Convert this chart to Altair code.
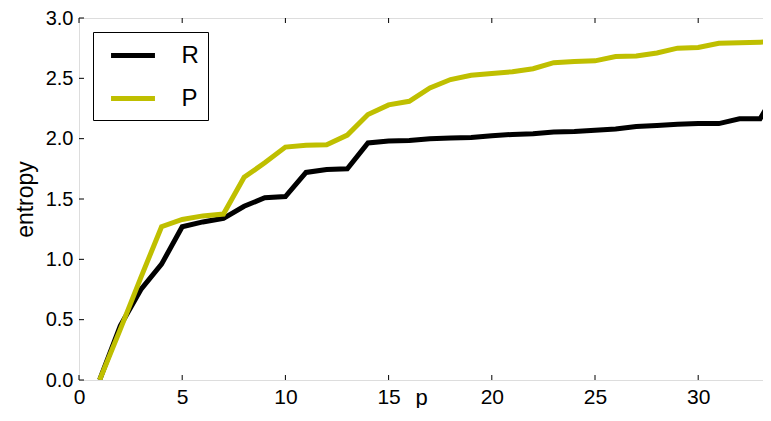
import altair as alt
import pandas as pd

p = list(range(1, 35))
R = [0.0, 0.45, 0.75, 0.96, 1.27, 1.31, 1.34, 1.44, 1.51, 1.52,
     1.72, 1.745, 1.75, 1.965, 1.98, 1.985, 2.0, 2.005, 2.01, 2.025,
     2.035, 2.04, 2.055, 2.06, 2.07, 2.08, 2.10, 2.11, 2.12, 2.125,
     2.125, 2.165, 2.165, 2.45]
P = [0.0, 0.42, 0.85, 1.27, 1.33, 1.36, 1.375, 1.68, 1.80, 1.93,
     1.945, 1.95, 2.03, 2.20, 2.28, 2.31, 2.42, 2.49, 2.525, 2.54,
     2.555, 2.58, 2.63, 2.64, 2.645, 2.68, 2.685, 2.71, 2.75, 2.755,
     2.79, 2.795, 2.80, 2.805]
series_names = ["R", "P"]
series_colors = ["#000000", "#bfbf00"]
x_ticks = [0, 5, 10, 15, 20, 25, 30]
y_ticks = [0.0, 0.5, 1.0, 1.5, 2.0, 2.5, 3.0]

W, H = 684, 362
XMAX = 684 / 20.64
FONT = "Liberation Sans"

df = pd.DataFrame({
    "p": p + p,
    "entropy": R + P,
    "series": ["R"] * len(p) + ["P"] * len(p),
})

xscale = alt.Scale(domain=[0, XMAX], nice=False, zero=False)
yscale = alt.Scale(domain=[0, 3.0], nice=False)

lines = alt.Chart(df).mark_line(strokeWidth=5, clip=True).encode(
    x=alt.X("p:Q", scale=xscale, title="p",
            axis=alt.Axis(values=x_ticks, ticks=False, domain=False, grid=False,
                          labelFontSize=21, labelPadding=6, labelColor="black",
                          labelFont=FONT, titleFont=FONT, titleFontSize=22,
                          titleFontWeight="normal", titleColor="black",
                          titlePadding=-20, labelFlush=False, labelOverlap=False)),
    y=alt.Y("entropy:Q", scale=yscale, title="entropy",
            axis=alt.Axis(values=y_ticks, format=".1f", ticks=False, domain=False,
                          grid=False, labelFontSize=20, labelPadding=6,
                          labelColor="black", labelFont=FONT, titleFont=FONT,
                          titleFontSize=23, titleFontWeight="normal",
                          titleColor="black", titlePadding=8, labelFlush=False)),
    color=alt.Color("series:N",
                    scale=alt.Scale(domain=series_names, range=series_colors),
                    sort=series_names,
                    legend=alt.Legend(title=None, orient="none", legendX=14, legendY=14,
                                      symbolType="M-1.83,0L1.83,0", symbolStrokeWidth=5,
                                      symbolSize=576, symbolOffset=16.5,
                                      labelFontSize=24, labelFont=FONT,
                                      labelColor="black", labelOffset=34,
                                      strokeColor="black",
                                      padding=9, rowPadding=16,
                                      fillColor="white")),
)

xt = pd.DataFrame({"t": x_ticks})
yt = pd.DataFrame({"t": y_ticks})

bottom_ticks = alt.Chart(xt).mark_rule(color="black", strokeWidth=1).encode(
    x=alt.X("t:Q", scale=xscale), y=alt.value(H), y2=alt.value(H - 5))
top_ticks = alt.Chart(xt).mark_rule(color="black", strokeWidth=1).encode(
    x=alt.X("t:Q", scale=xscale), y=alt.value(0), y2=alt.value(5))
left_ticks = alt.Chart(yt).mark_rule(color="black", strokeWidth=1).encode(
    y=alt.Y("t:Q", scale=yscale), x=alt.value(0), x2=alt.value(5))

chart = alt.layer(bottom_ticks, top_ticks, left_ticks, lines).properties(
    width=W, height=H,
    autosize=alt.AutoSizeParams(type="none"),
    padding={"left": 71, "top": 10, "right": 0, "bottom": 28},
).configure_view(stroke="black", strokeWidth=1.2).configure(background="white")

chart.save("out.html", embed_options={"renderer": "svg", "actions": False})
